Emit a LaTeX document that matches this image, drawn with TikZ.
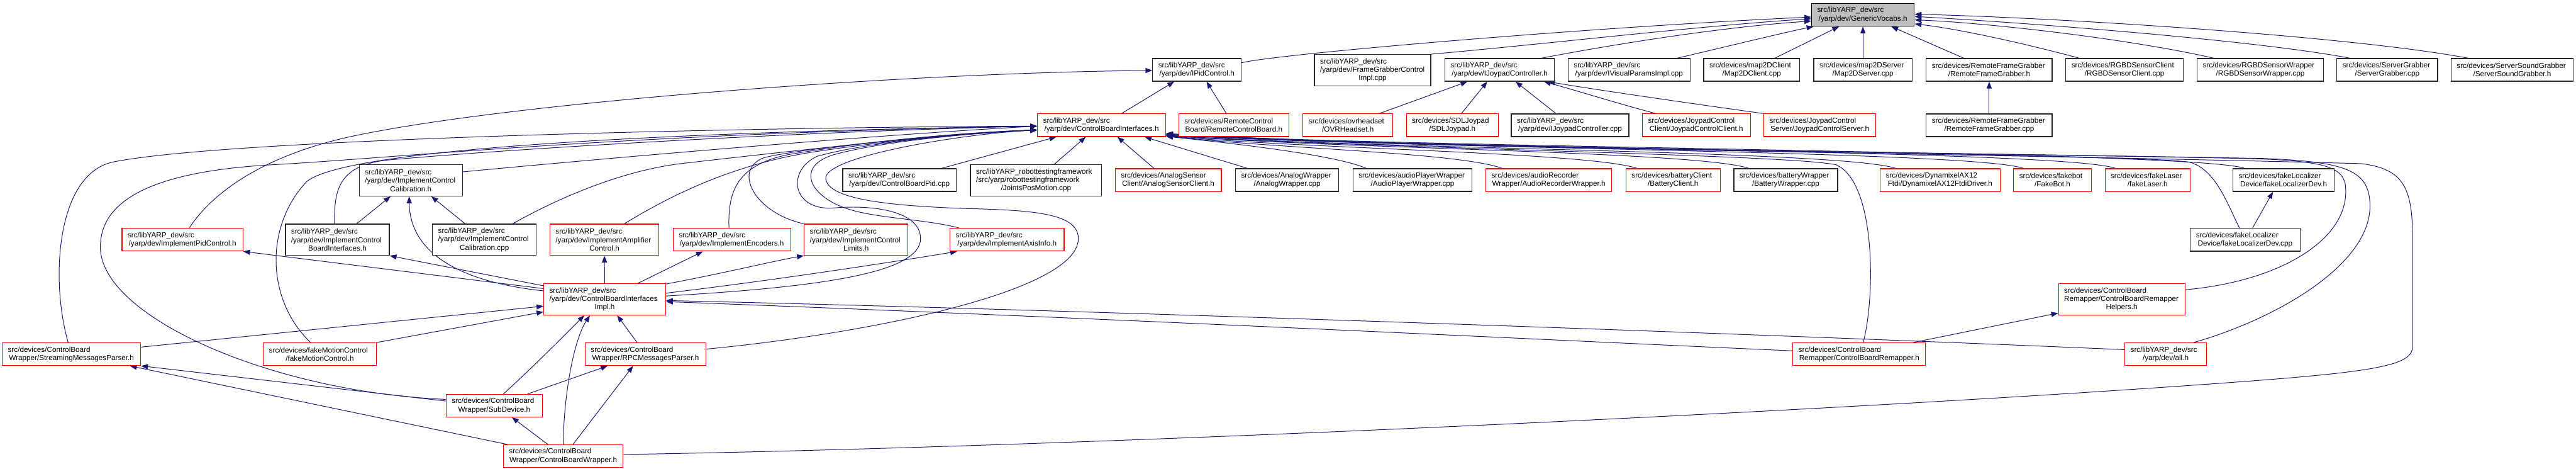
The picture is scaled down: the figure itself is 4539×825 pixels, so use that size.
\documentclass[tikz,border=0pt]{standalone}
\usepackage{fontspec}
\setmainfont{Liberation Sans}
\usetikzlibrary{arrows.meta}
\definecolor{edgeblue}{RGB}{25,25,112}
\definecolor{boxred}{RGB}{255,0,0}
\definecolor{gvfill}{RGB}{191,191,191}
\pgfdeclarelayer{bg}
\pgfsetlayers{bg,main}
\newcommand\nd[8]{%
  \pgfmathsetmacro\ndtw{#4-20}%
  \node[#6, text width=\ndtw pt, minimum height=#5 pt] (#1) at (#2,#3) {\raggedright #7\par\centering #8\par};%
}
\begin{document}
\begin{tikzpicture}[x=1pt,y=-1pt,
  box/.style={draw, fill=white, line width=1.2pt, inner xsep=10pt, inner ysep=1pt, font=\fontsize{13}{14.8}\selectfont},
  rb/.style={box, draw=boxred},
  bb/.style={box, draw=black!85, line width=1.4pt},
  gb/.style={box, draw=black, fill=gvfill, line width=1.4pt},
  dep/.style={draw=edgeblue, line width=1.1pt, -{Triangle[length=12pt,width=9pt]}}]
\useasboundingbox (0,0) rectangle (4539,825);
% ---------------- nodes ----------------
\nd{gv}{3282.5}{26}{181}{40}{gb}{src/libYARP\_dev/src}{/yarp/dev/GenericVocabs.h}
% row 2
\nd{ipid}{2109}{123}{156}{40}{bb}{src/libYARP\_dev/src}{/yarp/dev/IPidControl.h}
\nd{fgci}{2418.5}{123.5}{205}{55}{bb}{src/libYARP\_dev/src\\/yarp/dev/FrameGrabberControl}{Impl.cpp}
\nd{ijc}{2642.5}{123}{193}{40}{bb}{src/libYARP\_dev/src}{/yarp/dev/IJoypadController.h}
\nd{ivpi}{2870.5}{123}{215}{40}{bb}{src/libYARP\_dev/src}{/yarp/dev/IVisualParamsImpl.cpp}
\nd{m2dc}{3086.5}{123}{169}{40}{bb}{src/devices/map2DClient}{/Map2DClient.cpp}
\nd{m2ds}{3282.5}{123}{173}{40}{bb}{src/devices/map2DServer}{/Map2DServer.cpp}
\nd{rfgh}{3505}{123}{222}{40}{bb}{src/devices/RemoteFrameGrabber}{/RemoteFrameGrabber.h}
\nd{rgbdc}{3743.5}{123}{207}{40}{bb}{src/devices/RGBDSensorClient}{/RGBDSensorClient.cpp}
\nd{rgbdw}{3982.65}{123}{222.7}{40}{bb}{src/devices/RGBDSensorWrapper}{/RGBDSensorWrapper.cpp}
\nd{sg}{4206.4}{123}{177.6}{40}{bb}{src/devices/ServerGrabber}{/ServerGrabber.cpp}
\nd{ssg}{4426.45}{123}{215.1}{40}{bb}{src/devices/ServerSoundGrabber}{/ServerSoundGrabber.h}
% row 3
\nd{cbi}{1941}{220.5}{226}{40}{rb}{src/libYARP\_dev/src}{/yarp/dev/ControlBoardInterfaces.h}
\nd{rcb}{2174}{220.5}{194}{40}{rb}{src/devices/RemoteControl}{Board/RemoteControlBoard.h}
\nd{ovr}{2375}{220.5}{158}{40}{rb}{src/devices/ovrheadset}{/OVRHeadset.h}
\nd{sdl}{2559}{220.5}{162}{40}{rb}{src/devices/SDLJoypad}{/SDLJoypad.h}
\nd{ijccpp}{2766.5}{220.5}{207}{40}{bb}{src/libYARP\_dev/src}{/yarp/dev/IJoypadController.cpp}
\nd{jcc}{2989}{220.5}{190}{40}{rb}{src/devices/JoypadControl}{Client/JoypadControlClient.h}
\nd{jcs}{3206.5}{220.5}{197}{40}{rb}{src/devices/JoypadControl}{Server/JoypadControlServer.h}
\nd{rfgcpp}{3505}{220.5}{222}{40}{bb}{src/devices/RemoteFrameGrabber}{/RemoteFrameGrabber.cpp}
% row 4
\nd{icch}{724}{317.5}{182}{55}{bb}{src/libYARP\_dev/src\\/yarp/dev/ImplementControl}{Calibration.h}
\nd{cbpid}{1585}{317}{200}{40}{bb}{src/libYARP\_dev/src}{/yarp/dev/ControlBoardPid.cpp}
\nd{jpm}{1825.5}{317.5}{231}{55}{bb}{src/libYARP\_robottestingframework\\/src/yarp/robottestingframework}{/JointsPosMotion.cpp}
\nd{asc}{2058.5}{317}{187}{40}{rb}{src/devices/AnalogSensor}{Client/AnalogSensorClient.h}
\nd{aw}{2268}{317}{182}{40}{bb}{src/devices/AnalogWrapper}{/AnalogWrapper.cpp}
\nd{apw}{2489}{317}{210}{40}{bb}{src/devices/audioPlayerWrapper}{/AudioPlayerWrapper.cpp}
\nd{arw}{2729}{317}{222}{40}{rb}{src/devices/audioRecorder}{Wrapper/AudioRecorderWrapper.h}
\nd{bc}{2948}{317}{166}{40}{rb}{src/devices/batteryClient}{/BatteryClient.h}
\nd{bw}{3146.5}{317}{183}{40}{bb}{src/devices/batteryWrapper}{/BatteryWrapper.cpp}
\nd{dyn}{3418.5}{317}{211}{40}{rb}{src/devices/DynamixelAX12}{Ftdi/DynamixelAX12FtdiDriver.h}
\nd{fb}{3616.5}{317}{137}{40}{rb}{src/devices/fakebot}{/FakeBot.h}
\nd{fl}{3784}{317}{150}{40}{rb}{src/devices/fakeLaser}{/fakeLaser.h}
\nd{fldh}{4023.75}{317}{178.5}{40}{bb}{src/devices/fakeLocalizer}{Device/fakeLocalizerDev.h}
% row 5
\nd{ipidc}{321.5}{422}{213}{40}{rb}{src/libYARP\_dev/src}{/yarp/dev/ImplementPidControl.h}
\nd{icbi}{594.5}{422}{183}{55}{bb}{src/libYARP\_dev/src\\/yarp/dev/ImplementControl}{BoardInterfaces.h}
\nd{icccpp}{853.5}{422}{183}{55}{bb}{src/libYARP\_dev/src\\/yarp/dev/ImplementControl}{Calibration.cpp}
\nd{iamp}{1065}{422}{192}{55}{rb}{src/libYARP\_dev/src\\/yarp/dev/ImplementAmplifier}{Control.h}
\nd{ienc}{1289.5}{422}{207}{40}{rb}{src/libYARP\_dev/src}{/yarp/dev/ImplementEncoders.h}
\nd{icl}{1508.5}{422}{183}{55}{rb}{src/libYARP\_dev/src\\/yarp/dev/ImplementControl}{Limits.h}
\nd{iaxis}{1774.5}{422}{201}{40}{rb}{src/libYARP\_dev/src}{/yarp/dev/ImplementAxisInfo.h}
\nd{fldcpp}{3956}{422}{193.3}{40}{bb}{src/devices/fakeLocalizer}{Device/fakeLocalizerDev.cpp}
% row 6
\nd{cbimpl}{1065.5}{527}{215}{55}{rb}{src/libYARP\_dev/src\\/yarp/dev/ControlBoardInterfaces}{Impl.h}
\nd{cbrh}{3738.5}{527}{223}{55}{rb}{src/devices/ControlBoard\\Remapper/ControlBoardRemapper}{Helpers.h}
% row 7
\nd{smp}{126}{623.5}{244}{40}{rb}{src/devices/ControlBoard}{Wrapper/StreamingMessagesParser.h}
\nd{fmc}{563.5}{623.5}{199}{40}{rb}{src/devices/fakeMotionControl}{/fakeMotionControl.h}
\nd{rpc}{1137.5}{623.5}{213}{40}{rb}{src/devices/ControlBoard}{Wrapper/RPCMessagesParser.h}
\nd{cbrm}{3276}{623.5}{234}{40}{rb}{src/devices/ControlBoard}{Remapper/ControlBoardRemapper.h}
\nd{allh}{3816}{623.5}{144}{40}{rb}{src/libYARP\_dev/src}{/yarp/dev/all.h}
% rows 8, 9
\nd{sub}{871}{714}{170}{40}{rb}{src/devices/ControlBoard}{Wrapper/SubDevice.h}
\nd{cbw}{992.5}{803}{211}{40}{rb}{src/devices/ControlBoard}{Wrapper/ControlBoardWrapper.h}
% ---------------- edges ----------------
\begin{pgfonlayer}{bg}
\fill[white] (0,0) rectangle (4539,825);
% into GenericVocabs
\draw[dep] ([yshift=12.5]ipid.east) .. controls (2250,95) and (2800,48) .. ([yshift=-4]gv.west);
\draw[dep] (fgci.north east) .. controls (2700,80) and (3000,45) .. ([yshift=-7]gv.west);
\draw[dep] ([xshift=74]ijc.north) .. controls (2780,90) and (3000,50) .. ([yshift=-11]gv.west);
\draw[dep] ([xshift=85]ivpi.north) .. controls (3030,85) and (3140,58) .. ([xshift=4]gv.south west);
\draw[dep] ([xshift=41]m2dc.north) -- ([xshift=-42]gv.south);
\draw[dep] (m2ds.north) -- (gv.south);
\draw[dep] ([xshift=-45]rfgh.north) -- ([xshift=50]gv.south);
\draw[dep] ([xshift=-80]rgbdc.north) .. controls (3580,80) and (3460,52) .. ([yshift=-16]gv.east);
\draw[dep] ([xshift=-82.6]rgbdw.north) .. controls (3750,68) and (3500,40) .. ([yshift=-9]gv.east);
\draw[dep] ([xshift=-66]sg.north) .. controls (3980,72) and (3600,42) .. ([yshift=-3]gv.east);
\draw[dep] ([xshift=-78]ssg.north) .. controls (4150,65) and (3650,32) .. ([yshift=1]gv.east);
% into IJoypadController.h
\draw[dep] ([xshift=55]ovr.north) -- ([xshift=-57]ijc.south);
\draw[dep] ([xshift=16]sdl.north) -- ([xshift=-22]ijc.south);
\draw[dep] ([xshift=-25]ijccpp.north) -- ([xshift=28]ijc.south);
\draw[dep] ([xshift=-71]jcc.north) .. controls (2860,185) and (2780,160) .. ([xshift=78]ijc.south);
\draw[dep] (jcs.north west) .. controls (2950,178) and (2800,156) .. ([xshift=85]ijc.south);
% into IPidControl.h
\draw[dep] ([xshift=35]cbi.north) -- ([xshift=-40]ipid.south);
\draw[dep] ([xshift=-13]rcb.north) -- ([xshift=17]ipid.south);
\draw[dep] ([xshift=12]ipidc.north) .. controls (380,330) and (480,270) .. (620,240) .. controls (900,180) and (1600,128) .. ([yshift=-1]ipid.west);
% into ControlBoardInterfaces.h from the left
\draw[dep] ([xshift=-6]smp.north) .. controls (88,490) and (100,305) .. (200,285) .. controls (400,245) and (1300,224) .. ([yshift=-1.5]cbi.west);
\draw[dep] ([yshift=11]sub.west) .. controls (480,690) and (185,560) .. (177,440) .. controls (172,340) and (300,300) .. (480,290) .. controls (700,278) and (1100,235) .. ([yshift=-1.5]cbi.west);
\draw[dep] ([xshift=-16]fmc.north) .. controls (470,530) and (465,400) .. (540,320) .. controls (610,260) and (1200,232) .. ([yshift=-1.5]cbi.west);
\draw[dep] ([xshift=-5]icbi.north) .. controls (588,330) and (600,292) .. (680,282) .. controls (900,262) and (1400,232) .. ([yshift=-1.5]cbi.west);
\draw[dep] ([yshift=15]icch.east) .. controls (1000,285) and (1500,240) .. ([yshift=-1.5]cbi.west);
\draw[dep] ([xshift=50]icccpp.north) .. controls (990,345) and (1100,300) .. (1200,288) .. controls (1400,265) and (1700,232) .. ([yshift=-8.5]cbi.west);
\draw[dep] ([xshift=35]iamp.north) .. controls (1180,345) and (1290,290) .. (1430,268) .. controls (1600,242) and (1750,232) .. ([yshift=-8.5]cbi.west);
\draw[dep] ([xshift=-5]ienc.north) .. controls (1282,335) and (1300,290) .. (1390,272) .. controls (1550,245) and (1720,232) .. ([yshift=-8.5]cbi.west);
\draw[dep] (icl.north west) .. controls (1330,375) and (1290,300) .. (1345,278) .. controls (1400,262) and (1700,232) .. ([yshift=-8.5]cbi.west);
\draw[dep] ([yshift=6]cbimpl.east) .. controls (1450,505) and (1622,480) .. (1622,420) .. controls (1622,372) and (1540,360) .. (1470,366) .. controls (1395,372) and (1385,300) .. (1440,275) .. controls (1550,245) and (1750,232) .. ([yshift=-8.5]cbi.west);
\draw[dep] ([xshift=-84]iaxis.north) .. controls (1620,383) and (1520,385) .. (1470,358) .. controls (1420,332) and (1410,290) .. (1470,272) .. controls (1570,245) and (1750,232) .. ([yshift=-8.5]cbi.west);
\draw[dep] ([yshift=9]rpc.east) .. controls (1550,585) and (1900,510) .. (1900,420) .. controls (1900,375) and (1820,370) .. (1700,367) .. controls (1560,362) and (1460,350) .. (1455,315) .. controls (1450,275) and (1700,235) .. ([yshift=-8.5]cbi.west);
% into ControlBoardInterfaces.h from below
\draw[dep] ([xshift=74]cbpid.north) -- ([xshift=-80]cbi.south);
\draw[dep] ([xshift=32]jpm.north) -- ([xshift=-28]cbi.south);
\draw[dep] ([xshift=-25]asc.north) -- ([xshift=28]cbi.south);
\draw[dep] ([xshift=-70]aw.north) -- ([xshift=76]cbi.south);
% into ControlBoardInterfaces.h from the right
\draw[dep] ([xshift=-82]apw.north) .. controls (2360,275) and (2200,255) .. ([yshift=1]cbi.south east);
\draw[dep] ([xshift=-82]arw.north) .. controls (2570,268) and (2250,262) .. ([yshift=2]cbi.south east);
\draw[dep] ([xshift=-63]bc.north) .. controls (2800,268) and (2300,262) .. ([yshift=2]cbi.south east);
\draw[dep] ([xshift=-65]bw.north) .. controls (2990,266) and (2350,262) .. ([yshift=3]cbi.south east);
\draw[dep] ([xshift=-78]dyn.north) .. controls (3250,265) and (2400,262) .. ([yshift=3]cbi.south east);
\draw[dep] ([xshift=-51]fb.north) .. controls (3480,265) and (2450,262) .. ([yshift=4]cbi.south east);
\draw[dep] ([xshift=-56]fl.north) .. controls (3640,264) and (2500,262) .. ([yshift=4]cbi.south east);
\draw[dep] ([xshift=-68.75]fldh.north) .. controls (3870,266) and (2550,262) .. ([yshift=5]cbi.south east);
\draw[dep] ([xshift=-10]fldcpp.north) .. controls (3925,360) and (3905,300) .. (3860,286) .. controls (3800,270) and (2500,262) .. ([yshift=5]cbi.south east);
\draw[dep] ([yshift=17]cbrh.east) .. controls (4020,495) and (4140,420) .. (4133,330) .. controls (4131,292) and (4090,283) .. (3960,279) .. controls (3300,266) and (2500,262) .. ([yshift=5]cbi.south east);
\draw[dep] ([xshift=49]allh.north) .. controls (4000,565) and (4178,470) .. (4176,360) .. controls (4174,300) and (4135,285) .. (3990,279) .. controls (3300,266) and (2500,262) .. ([yshift=6]cbi.south east);
\draw[dep] ([yshift=3]cbw.east) .. controls (2000,785) and (3400,715) .. (4000,668) .. controls (4200,652) and (4251,640) .. (4251,610) -- (4251,420) .. controls (4251,330) and (4235,297) .. (4160,288) .. controls (3400,268) and (2500,262) .. ([yshift=6]cbi.south east);
\draw[dep] ([xshift=7]cbrm.north) .. controls (3305,520) and (3305,320) .. (3235,290) .. controls (3150,272) and (2450,262) .. ([yshift=2]cbi.south east);
% into ControlBoardInterfacesImpl.h
\draw[dep] ([yshift=12.5]smp.east) -- ([yshift=-12]cbimpl.west);
\draw[dep] (fmc.north east) -- ([yshift=-22]cbimpl.west);
\draw[dep] ([xshift=16]sub.north) .. controls (930,655) and (1000,585) .. ([xshift=-36]cbimpl.south);
\draw[dep] (cbw.north) .. controls (993,700) and (1010,600) .. ([xshift=-26]cbimpl.south);
\draw[dep] ([xshift=-15]rpc.north) -- ([xshift=22]cbimpl.south);
\draw[dep] ([yshift=6]cbrm.west) .. controls (2800,602) and (2000,562) .. ([yshift=-4]cbimpl.east);
\draw[dep] ([yshift=8]allh.west) .. controls (3200,592) and (2000,548) .. ([yshift=-2]cbimpl.east);
% from ControlBoardInterfacesImpl.h
\draw[dep] ([yshift=19]cbimpl.west) -- (ipidc.south east);
\draw[dep] ([yshift=24]cbimpl.west) -- (icbi.south east);
\draw[dep] ([yshift=15]cbimpl.west) .. controls (800,495) and (722,440) .. ([xshift=-3]icch.south);
\draw[dep] (cbimpl.north) -- (iamp.south);
\draw[dep] ([xshift=58]cbimpl.north) -- ([xshift=-51]ienc.south);
\draw[dep] ([yshift=-1]cbimpl.north east) .. controls (1280,480) and (1360,460) .. (icl.south west);
\draw[dep] ([yshift=11]cbimpl.east) .. controls (1350,495) and (1550,465) .. ([xshift=-88]iaxis.south);
% others
\draw[dep] ([xshift=34]icbi.north) -- ([xshift=-36]icch.south);
\draw[dep] ([xshift=-34]icccpp.north) -- ([xshift=36]icch.south);
\draw[dep] ([yshift=8]sub.west) -- (smp.south east);
\draw[dep] ([xshift=-98]cbw.north) -- ([xshift=103]smp.south);
\draw[dep] ([xshift=59]sub.north) -- ([xshift=-67]rpc.south);
\draw[dep] ([xshift=17]cbw.north) -- ([xshift=-22]rpc.south);
\draw[dep] ([xshift=-27]cbw.north) -- ([xshift=31]sub.south);
\draw[dep] ([xshift=95]cbrm.north) -- ([yshift=4]cbrh.south west);
\draw[dep] (rfgcpp.north) -- (rfgh.south);
\draw[dep] ([xshift=13]fldcpp.north) -- ([xshift=-18.75]fldh.south);
\end{pgfonlayer}
\end{tikzpicture}
\end{document}
